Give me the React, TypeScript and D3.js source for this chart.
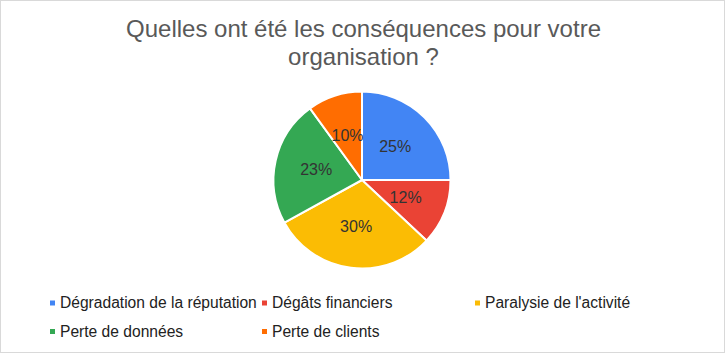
import React, { useEffect, useRef } from 'react';
import * as d3 from 'd3';

const categories = [
  'Dégradation de la réputation',
  'Dégâts financiers',
  "Paralysie de l'activité",
  'Perte de données',
  'Perte de clients',
];
const values = [25, 12, 30, 23, 10];
const colors = ['#4285F4', '#EA4335', '#FBBC04', '#34A853', '#FF6D01'];
const titleLines = ['Quelles ont été les conséquences pour votre', 'organisation ?'];

export default function App() {
  const svgRef = useRef<SVGSVGElement>(null);

  useEffect(() => {
    const width = 725;
    const height = 353;
    const font = 'Liberation Sans, Arial, sans-serif';
    const svg = d3.select(svgRef.current).attr('width', width).attr('height', height);
    svg.selectAll('*').remove();

    svg.append('rect').attr('x', 0.5).attr('y', 0.5).attr('width', width - 1).attr('height', height - 1)
      .attr('fill', '#fff').attr('stroke', '#d9d9d9');

    // Title
    svg.append('g').selectAll('text').data(titleLines).join('text')
      .attr('x', 363.5).attr('y', (d, i) => 37 + i * 28)
      .attr('text-anchor', 'middle').attr('fill', '#595959')
      .attr('font-family', font).attr('font-size', '24px')
      .text(d => d);

    // Pie
    const cx = 362, cy = 180, r = 88.5;
    const pie = d3.pie<number>().sort(null).value(d => d);
    const arcs = pie(values);
    const arc = d3.arc<d3.PieArcDatum<number>>().innerRadius(0).outerRadius(r);
    const labelArc = d3.arc<d3.PieArcDatum<number>>().innerRadius(r * 0.53).outerRadius(r * 0.53);
    const g = svg.append('g').attr('transform', `translate(${cx},${cy})`);
    g.selectAll('path').data(arcs).join('path')
      .attr('d', arc).attr('fill', (d, i) => colors[i])
      .attr('stroke', '#fff').attr('stroke-width', 2).attr('stroke-linejoin', 'round');

    const total = d3.sum(values);
    g.selectAll('text').data(arcs).join('text')
      .attr('transform', d => `translate(${labelArc.centroid(d)})`)
      .attr('text-anchor', 'middle').attr('dominant-baseline', 'central')
      .attr('fill', '#333').attr('font-family', font).attr('font-size', '16px')
      .text(d => `${Math.round((d.value / total) * 100)}%`);

    // Legend
    const legendX = [50, 262, 475];
    const legendY = [302.5, 331];
    const leg = svg.append('g').selectAll('g').data(categories).join('g')
      .attr('transform', (d, i) => `translate(${legendX[i % 3]},${legendY[Math.floor(i / 3)]})`);
    leg.append('rect').attr('x', 0).attr('y', -2).attr('width', 5).attr('height', 5)
      .attr('fill', (d, i) => colors[i]);
    leg.append('text').attr('x', 10).attr('y', 0).attr('dominant-baseline', 'central')
      .attr('fill', '#222').attr('font-family', font).attr('font-size', '15.6px')
      .text(d => d);
  }, []);

  return (
    <div style={{ position: 'fixed', left: 0, top: 0 }}>
      <svg ref={svgRef} style={{ display: 'block' }} />
    </div>
  );
}
